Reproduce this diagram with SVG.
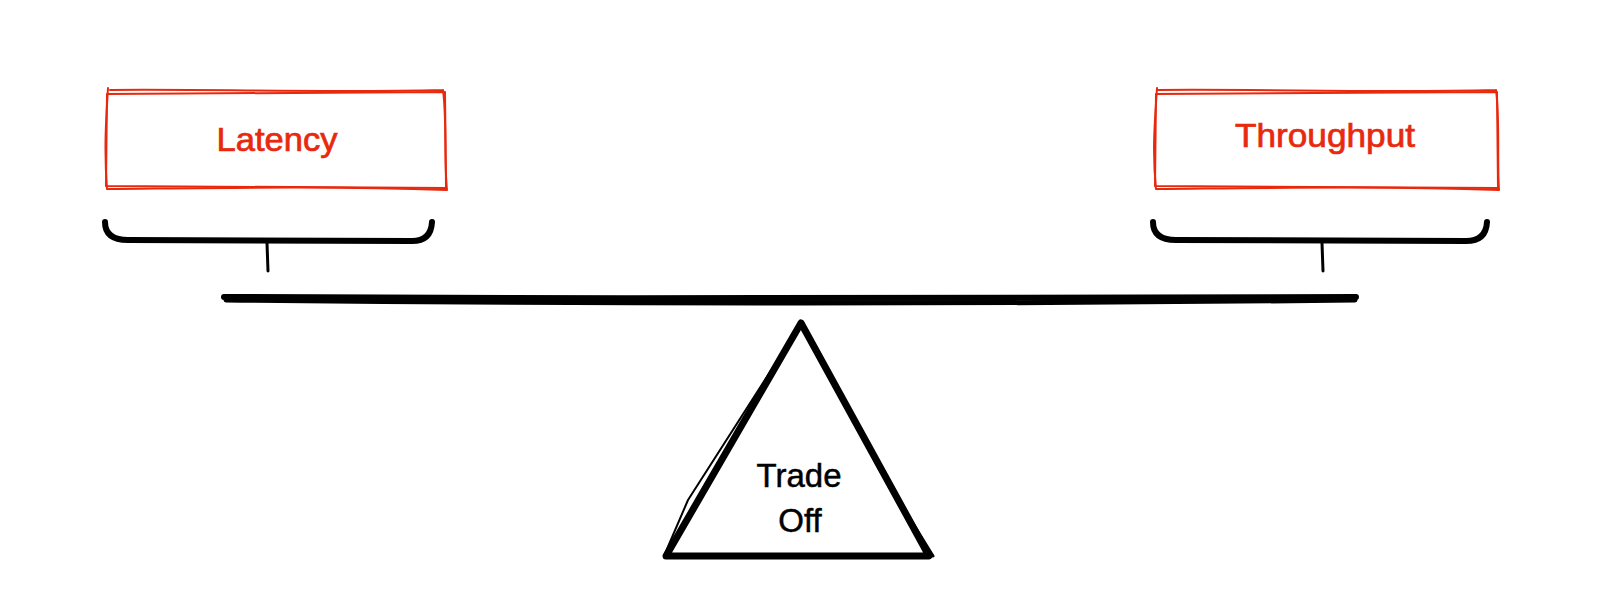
<svg xmlns="http://www.w3.org/2000/svg" width="1600" height="612" viewBox="0 0 1600 612">
<style>
.box{fill:none;stroke:#e8290e;stroke-width:2;stroke-linecap:round;stroke-linejoin:round}
.lbl{font-family:"Liberation Sans",Arial,sans-serif;fill:#e8290e;stroke:#e8290e;stroke-width:0.7;text-anchor:middle;font-size:33px}
.blk{fill:none;stroke:#000;stroke-linecap:round;stroke-linejoin:round}
.tt{font-family:"Liberation Sans",Arial,sans-serif;fill:#000;stroke:#000;stroke-width:0.5;text-anchor:middle;font-size:33px}
</style>
<rect width="1600" height="612" fill="#fff"/>
<g id="latency">
<path class="box" d="M107,94 L445,92 L446,188 L106,186 Z"/>
<path class="box" d="M110,90 C220,89 330,93 443,90 M443,90 C447,120 444,160 447,190 M447,190 C330,186 220,188 107,189 M107,189 C104,150 106,120 108,88"/>
<text class="lbl" x="277" y="151" textLength="121" lengthAdjust="spacingAndGlyphs">Latency</text>
</g>
<g id="throughput">
<path class="box" d="M1156,94 L1497,92 L1498,188 L1155,186 Z"/>
<path class="box" d="M1158,90 C1270,89 1380,93 1496,90 M1496,90 C1500,120 1497,160 1499,190 M1499,190 C1380,186 1270,188 1156,189 M1156,189 C1152,150 1155,120 1157,88"/>
<text class="lbl" x="1325" y="147" textLength="180" lengthAdjust="spacingAndGlyphs">Throughput</text>
</g>
<g id="scale">
<path class="blk" stroke-width="6" d="M105,222 Q105,240 128,240 L412,241 Q431,241 432,222"/>
<path class="blk" stroke-width="3" d="M267,243 L268,271"/>
<path class="blk" stroke-width="6" d="M1153,222 Q1153,240 1176,240 L1466,241 Q1486,241 1487,222"/>
<path class="blk" stroke-width="3" d="M1322,243 L1323,271"/>
<path class="blk" stroke-width="6" d="M224,297 C600,299 1000,299 1356,297"/>
<path class="blk" stroke-width="5" d="M226,300 C600,304 1000,304 1355,300"/>
</g>
<g id="tradeoff">
<path class="blk" stroke-width="7" d="M801,323 L929,556 L666,556 Z"/>
<path class="blk" stroke-width="3" d="M803,326 L880,470 L933,556"/>
<path class="blk" stroke-width="2" d="M797,330 L688,500 L664,556"/>
<text class="tt" x="799" y="487">Trade</text>
<text class="tt" x="800" y="532">Off</text>
</g>
</svg>
